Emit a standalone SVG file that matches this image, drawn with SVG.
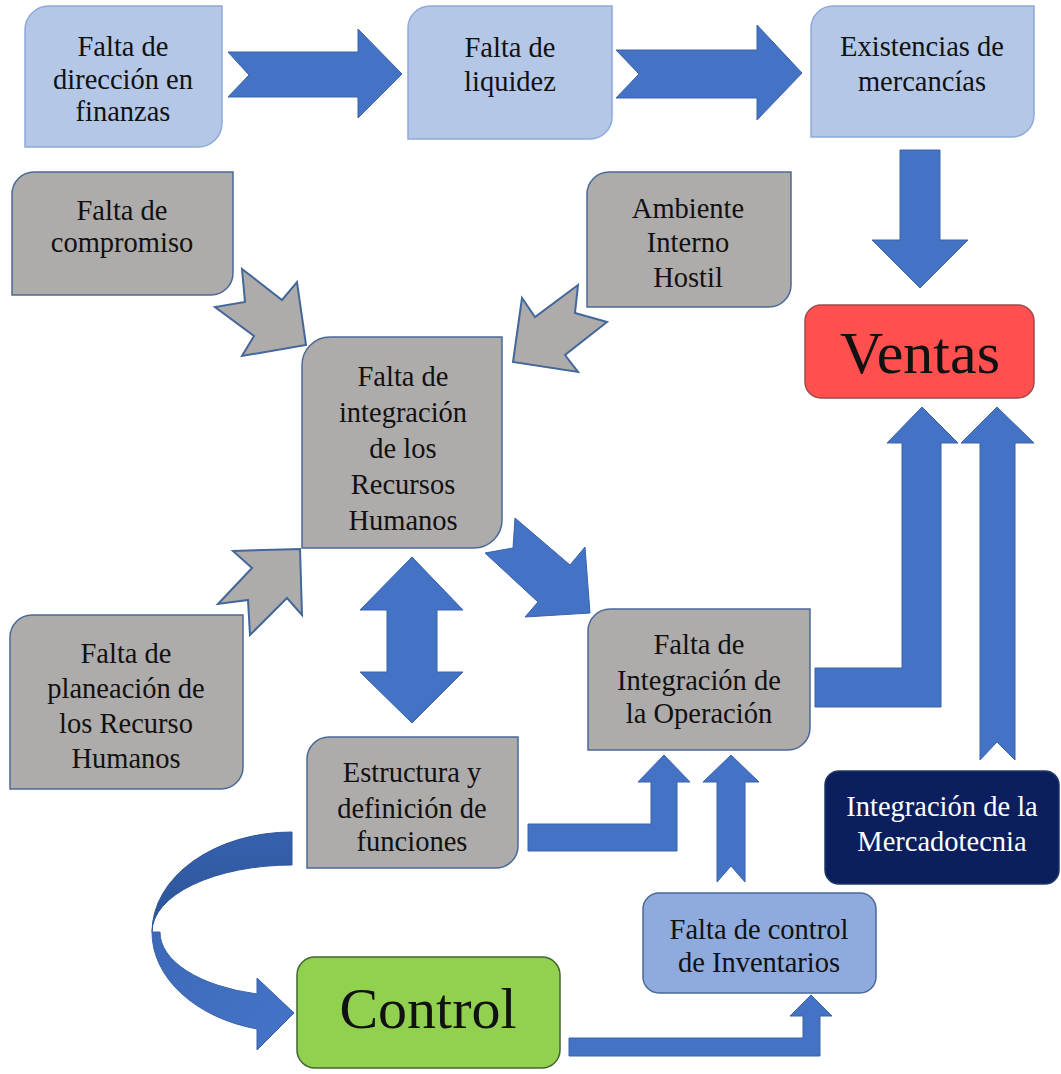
<svg xmlns="http://www.w3.org/2000/svg" width="1061" height="1074" viewBox="0 0 1061 1074" font-family="'Liberation Serif', Tinos, 'DejaVu Serif', 'Noto Serif', 'Times New Roman', serif">
<defs>
<style>
.t{font-family:'Liberation Serif',Tinos,'DejaVu Serif','Noto Serif','Times New Roman',serif;font-size:28.5px;fill:#111;text-anchor:middle}
.w{fill:#fff}
.lb{fill:#B4C7E7;stroke:#8EA9DB;stroke-width:1.5}
.gr{fill:#AEABAB;stroke:#4A6A96;stroke-width:1.5}
.ba{fill:#4472C4;stroke:#3A62AA;stroke-width:1}
.ga{fill:#AEABAB;stroke:#44679A;stroke-width:2;stroke-linejoin:miter}
</style>
<linearGradient id="dk" x1="0" y1="0" x2="0" y2="1">
<stop offset="0" stop-color="#3661AE"/>
<stop offset="1" stop-color="#2B5295"/>
</linearGradient>
<linearGradient id="lt" x1="0" y1="0" x2="1" y2="1">
<stop offset="0" stop-color="#3D68B8"/>
<stop offset="1" stop-color="#4575C8"/>
</linearGradient>
</defs>
<rect width="1061" height="1074" fill="#fff"/>

<g id="connectors">
<polygon class="ba" points="228,52 358,52 358,29 402,74 358,118 358,97 228,97 249,75"/>
<polygon class="ba" points="616,50 757,50 757,25 802,73 757,120 757,98 616,98 639,74"/>
<polygon class="ba" points="900,150 940,150 940,240 968,240 920,288 872,240 900,240"/>
<polygon class="ga" points="242,269 282,300 297,282 306,345 242,356 254,336 215,307 245,302"/>
<polygon class="ga" points="578,285 535,317 522,298 513,362 578,372 565,355 607,322 575,313"/>
<polygon class="ga" points="233,551 300,549 302,615 287,598 250,635 248,600 218,604 252,568"/>
<polygon class="ba" points="515,518 570,565 585,547 590,613 525,617 538,602 485,553 513,548"/>
<polygon class="ba" points="412,557 463,610 437,610 437,672 463,672 412,723 360,672 387,672 387,610 360,610"/>
<polygon class="ba" points="815,668 902,668 902,443 887,443 922,407 958,443 941,443 941,707 815,707"/>
<polygon class="ba" points="980,760 980,443 961,443 997,407 1034,443 1015,443 1015,760 997,742"/>
<polygon class="ba" points="528,824 651,824 651,782 638,782 664,755 690,782 677,782 677,851 528,851"/>
<polygon class="ba" points="717,882 717,782 703,782 731,755 759,782 745,782 745,882 731,866"/>
<polygon class="ba" points="569,1038 803,1038 803,1016 790,1016 811,995 832,1016 820,1016 820,1056 569,1056"/>
<path d="M292,832 A140,100 0 0 0 152,932 A140,67 0 0 1 292,865 Z" fill="url(#dk)" stroke="#2F5597" stroke-width="1"/>
<path d="M152,932 A140,100 0 0 0 257,1029 L257,1050 L294,1013 L257,978 L257,994 A132,64 0 0 1 160,932 Z" fill="url(#lt)" stroke="#3A62AA" stroke-width="1"/>
</g>

<g id="n-finanzas">
<path class="lb" d="M49,6 H222 V123 A24,24 0 0 1 198,147 H25 V30 A24,24 0 0 1 49,6 Z"/>
<text class="t" x="123" y="56">Falta de</text>
<text class="t" x="123" y="89">dirección en</text>
<text class="t" x="123" y="121">finanzas</text>
</g>
<g id="n-liquidez">
<path class="lb" d="M430,6 H612 V117 A22,22 0 0 1 590,139 H408 V28 A22,22 0 0 1 430,6 Z"/>
<text class="t" x="510" y="57">Falta de</text>
<text class="t" x="510" y="91">liquidez</text>
</g>
<g id="n-existencias">
<path class="lb" d="M833,6 H1034 V115 A22,22 0 0 1 1012,137 H811 V28 A22,22 0 0 1 833,6 Z"/>
<text class="t" x="922" y="56">Existencias de</text>
<text class="t" x="922" y="91">mercancías</text>
</g>
<g id="n-compromiso">
<path class="gr" d="M34,172 H233 V273 A22,22 0 0 1 211,295 H12 V194 A22,22 0 0 1 34,172 Z"/>
<text class="t" x="122" y="220">Falta de</text>
<text class="t" x="122" y="252">compromiso</text>
</g>
<g id="n-ambiente">
<path class="gr" d="M609,172 H791 V285 A22,22 0 0 1 769,307 H587 V194 A22,22 0 0 1 609,172 Z"/>
<text class="t" x="688" y="218">Ambiente</text>
<text class="t" x="688" y="252">Interno</text>
<text class="t" x="688" y="287">Hostil</text>
</g>
<g id="n-rrhh">
<path class="gr" d="M330,337 H502 V520 A28,28 0 0 1 474,548 H302 V365 A28,28 0 0 1 330,337 Z"/>
<text class="t" x="403" y="386">Falta de</text>
<text class="t" x="403" y="422">integración</text>
<text class="t" x="403" y="458">de los</text>
<text class="t" x="403" y="494">Recursos</text>
<text class="t" x="403" y="530">Humanos</text>
</g>
<g id="n-ventas">
<rect x="805" y="305" width="229" height="93" rx="16" fill="#FF4F4F" stroke="#9E4A4A" stroke-width="1.5"/>
<text class="t" x="920" y="373" style="font-size:60px">Ventas</text>
</g>
<g id="n-planeacion">
<path class="gr" d="M32,615 H243 V767 A22,22 0 0 1 221,789 H10 V637 A22,22 0 0 1 32,615 Z"/>
<text class="t" x="126" y="663">Falta de</text>
<text class="t" x="126" y="698">planeación de</text>
<text class="t" x="126" y="733">los Recurso</text>
<text class="t" x="126" y="768">Humanos</text>
</g>
<g id="n-operacion">
<path class="gr" d="M610,609 H810 V728 A22,22 0 0 1 788,750 H588 V631 A22,22 0 0 1 610,609 Z"/>
<text class="t" x="699" y="654">Falta de</text>
<text class="t" x="699" y="690">Integración de</text>
<text class="t" x="699" y="723">la Operación</text>
</g>
<g id="n-estructura">
<path class="gr" d="M329,737 H518 V846 A22,22 0 0 1 496,868 H307 V759 A22,22 0 0 1 329,737 Z"/>
<text class="t" x="412" y="782">Estructura y</text>
<text class="t" x="412" y="818">definición de</text>
<text class="t" x="412" y="851">funciones</text>
</g>
<g id="n-mercadotecnia">
<rect x="825" y="771" width="234" height="113" rx="14" fill="#0B1F5E" stroke="#1F3864" stroke-width="1.5"/>
<text class="t w" x="942" y="816">Integración de la</text>
<text class="t w" x="942" y="851">Mercadotecnia</text>
</g>
<g id="n-inventarios">
<rect x="643" y="893" width="233" height="100" rx="16" fill="#8FAADC" stroke="#4A6A96" stroke-width="1.5"/>
<text class="t" x="759" y="939">Falta de control</text>
<text class="t" x="759" y="972">de Inventarios</text>
</g>
<g id="n-control">
<rect x="297" y="957" width="263" height="111" rx="18" fill="#92D050" stroke="#41652C" stroke-width="1.5"/>
<text class="t" x="428" y="1028" style="font-size:58px">Control</text>
</g>
</svg>
